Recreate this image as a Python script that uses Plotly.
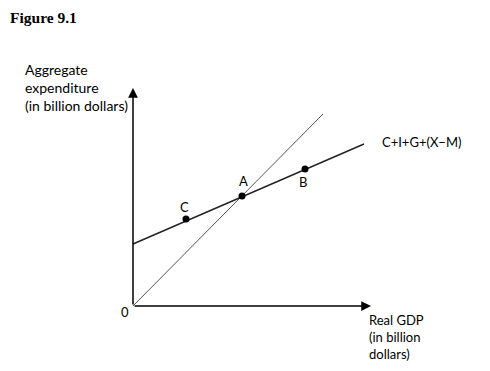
import plotly.graph_objects as go

# Data (units relative to origin)
line45_x = [0, 190]
line45_y = [0, 192]
ae_x = [0, 231]
ae_y = [62, 162]
pt_labels = ["A", "C", "B"]
pt_x = [109, 53, 172]
pt_y = [110, 87, 137]
lbl_dx = [1, -2, -2]
lbl_dy = [15, 12, -13]

FONT = "Lato"
fig = go.Figure()
fig.add_trace(go.Scatter(x=line45_x, y=line45_y, mode="lines",
                         line=dict(color="#555555", width=1), hoverinfo="skip"))
fig.add_trace(go.Scatter(x=ae_x, y=ae_y, mode="lines",
                         line=dict(color="#222222", width=1.4), hoverinfo="skip"))
fig.add_trace(go.Scatter(x=pt_x, y=pt_y, mode="markers",
                         marker=dict(color="black", size=7), hoverinfo="skip"))

anns = []
# axes with arrows
anns.append(dict(x=0, y=218, ax=0, ay=0, xref="x", yref="y", axref="x", ayref="y",
                 showarrow=True, arrowhead=2, arrowsize=1.3, arrowwidth=1.5,
                 arrowcolor="black", text=""))
anns.append(dict(x=238, y=0, ax=0, ay=0, xref="x", yref="y", axref="x", ayref="y",
                 showarrow=True, arrowhead=2, arrowsize=1.3, arrowwidth=1.5,
                 arrowcolor="black", text=""))
for l, x, y, dx, dy in zip(pt_labels, pt_x, pt_y, lbl_dx, lbl_dy):
    anns.append(dict(x=x + dx, y=y + dy, xref="x", yref="y", text=l, showarrow=False,
                     font=dict(family=FONT, size=13, color="black")))
anns.append(dict(x=-8, y=-6, xref="x", yref="y", text="0", showarrow=False,
                 font=dict(family=FONT, size=13, color="black")))
anns.append(dict(x=247, y=164, xref="x", yref="y", text="C+I+G+(X\u2212M)", showarrow=False,
                 xanchor="left", font=dict(family=FONT, size=13, color="black")))
anns.append(dict(x=234, y=-31, xref="x", yref="y", text="Real GDP<br>(in billion<br>dollars)",
                 showarrow=False, xanchor="left", yanchor="middle", align="left",
                 font=dict(family=FONT, size=13, color="black")))
anns.append(dict(x=-110, y=219, xref="x", yref="y", text="Aggregate<br>expenditure<br>(in billion dollars)",
                 showarrow=False, xanchor="left", yanchor="middle", align="left",
                 font=dict(family=FONT, size=14, color="black")))
anns.append(dict(x=0.0, y=1 - 9 / 363, xref="paper", yref="paper", text="<b>Figure 9.1</b>",
                 showarrow=False, xanchor="left", yanchor="middle",
                 font=dict(family="Liberation Serif", size=15.5, color="black")))

# page body has an 8px margin, so the figure is offset by 8px
fig.update_layout(
    width=482, height=363, margin=dict(l=0, r=0, t=0, b=0),
    paper_bgcolor="white", plot_bgcolor="white", showlegend=False,
    xaxis=dict(range=[-125, 357], visible=False, fixedrange=True),
    yaxis=dict(range=[-65, 298], visible=False, fixedrange=True),
    annotations=anns,
)
fig.write_html("out.html")
